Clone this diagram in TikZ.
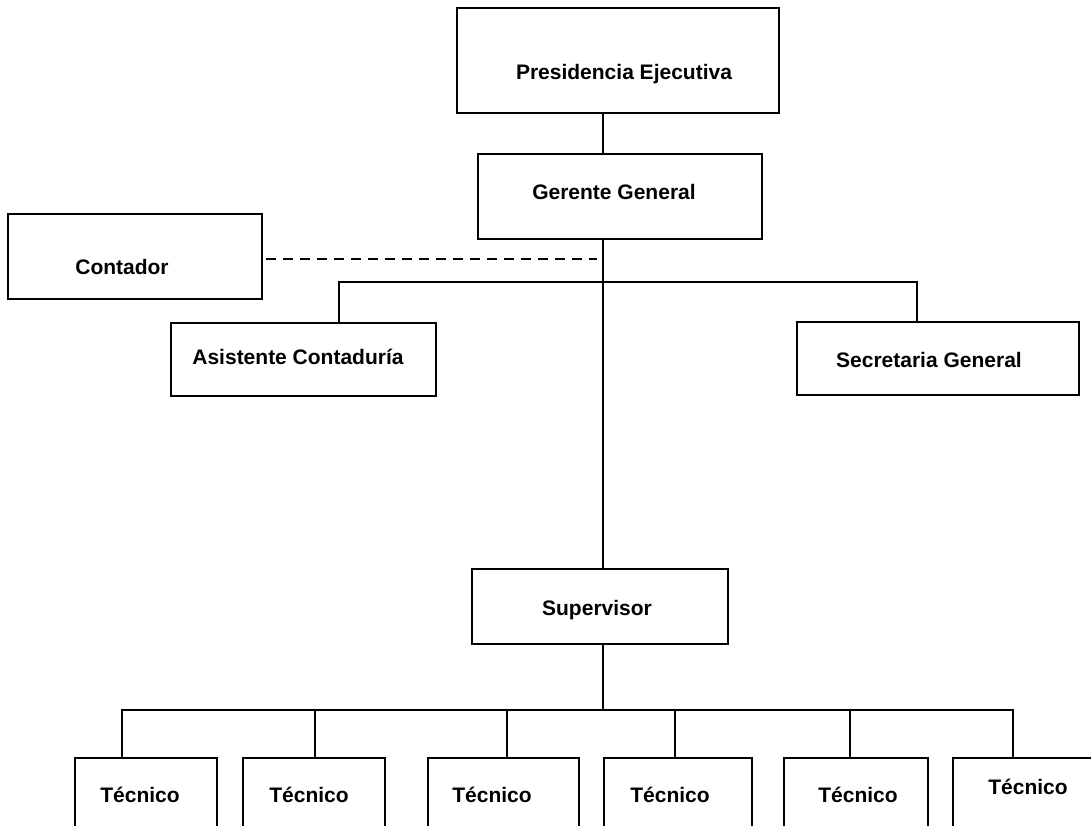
\documentclass[tikz,border=0pt]{standalone}
\usepackage{fontspec}
\setmainfont{Liberation Sans}
\begin{document}
\begin{tikzpicture}[x=1pt,y=-1pt,
  box/.style={draw, line width=1.3pt, rectangle, inner sep=0pt, outer sep=0pt},
  lbl/.style={font=\fontsize{21}{25}\selectfont\bfseries, inner sep=0pt,
              text height=15pt, text depth=0pt},
  link/.style={line width=1.3pt},
  dotlink/.style={line width=1.3pt, dash pattern=on 10pt off 7pt}]
  \clip (0,0) rectangle (1091,826);
  \fill[white] (0,0) rectangle (1091,826);

  % boxes
  \node[box, minimum width=322pt, minimum height=105pt] (pres) at (618,60.5) {};
  \node[box, minimum width=284pt, minimum height=85pt]  (ger)  at (620,196.5) {};
  \node[box, minimum width=254pt, minimum height=85pt]  (cont) at (135,256.5) {};
  \node[box, minimum width=265pt, minimum height=73pt]  (asis) at (303.5,359.5) {};
  \node[box, minimum width=282pt, minimum height=73pt]  (secr) at (938,358.5) {};
  \node[box, minimum width=256pt, minimum height=75pt]  (sup)  at (600,606.5) {};
  \node[box, minimum width=142pt, minimum height=102pt] (t1) at (146,809) {};
  \node[box, minimum width=142pt, minimum height=102pt] (t2) at (314,809) {};
  \node[box, minimum width=151pt, minimum height=102pt] (t3) at (503.5,809) {};
  \node[box, minimum width=148pt, minimum height=102pt] (t4) at (678,809) {};
  \node[box, minimum width=144pt, minimum height=102pt] (t5) at (856,809) {};
  \node[box, minimum width=144pt, minimum height=102pt] (t6) at (1025,809) {};

  % labels
  \node[lbl] (presL) at (624,72)  {Presidencia Ejecutiva};
  \node[lbl] (gerL)  at (614,192) {Gerente General};
  \node[lbl] (contL) at (122,267) {Contador};
  \node[lbl] (asisL) at (298,357) {Asistente Contaduría};
  \node[lbl] (secrL) at (929,360) {Secretaria General};
  \node[lbl] (supL)  at (597,608) {Supervisor};
  \node[lbl] (t1L) at (140,795)  {Técnico};
  \node[lbl] (t2L) at (309,795)  {Técnico};
  \node[lbl] (t3L) at (492,795)  {Técnico};
  \node[lbl] (t4L) at (670,795)  {Técnico};
  \node[lbl] (t5L) at (858,795)  {Técnico};
  \node[lbl] (t6L) at (1028,787) {Técnico};

  % junction points
  \coordinate (hub)  at (603,282);
  \coordinate (ja)   at (339,282);
  \coordinate (js)   at (917,282);
  \coordinate (dend) at (597,259);
  \coordinate (tb)   at (603,710);
  \coordinate (c1) at (122,710);
  \coordinate (c2) at (315,710);
  \coordinate (c3) at (507,710);
  \coordinate (c4) at (675,710);
  \coordinate (c5) at (850,710);
  \coordinate (c6) at (1013,710);

  % main line of command
  \draw[link] (pres.south -| hub) -- (ger.north -| hub);
  \draw[link] (ger.south -| hub) -- (sup.north -| hub);
  \draw[link] (asis.north -| ja) -- (ja) -- (js) -- (secr.north -| js);
  \draw[dotlink] ([xshift=4pt]cont.east |- dend) -- (dend);

  % technicians
  \draw[link] (sup.south -| tb) -- (tb);
  \draw[link] (t1.north -| c1) -- (c1) -- (c6) -- (t6.north -| c6);
  \draw[link] (c2) -- (t2.north -| c2);
  \draw[link] (c3) -- (t3.north -| c3);
  \draw[link] (c4) -- (t4.north -| c4);
  \draw[link] (c5) -- (t5.north -| c5);
\end{tikzpicture}
\end{document}
